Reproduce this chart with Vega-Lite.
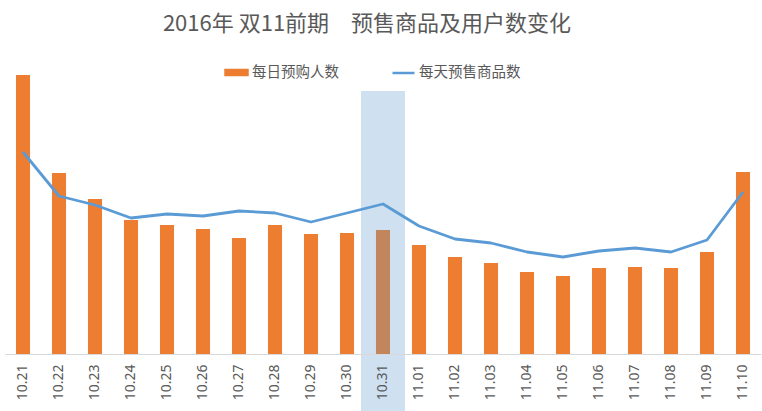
{
  "$schema": "https://vega.github.io/schema/vega-lite/v6.json",
  "autosize": {"type": "none"},
  "width": 756,
  "height": 294,
  "padding": {"left": 5, "top": 60, "right": 1, "bottom": 57},
  "background": "white",
  "config": {"view": {"stroke": null}, "font": "Noto Sans CJK SC"},
  "title": {
    "text": "2016年 双11前期　预售商品及用户数变化",
    "fontSize": 22,
    "fontWeight": "normal",
    "color": "#595959",
    "font": "Noto Sans CJK SC",
    "anchor": "middle",
    "dx": -16,
    "offset": 24
  },
  "data": {
    "values": [
      {"date": "10.21", "buyers": 279, "products": 202},
      {"date": "10.22", "buyers": 181, "products": 158},
      {"date": "10.23", "buyers": 155, "products": 149},
      {"date": "10.24", "buyers": 134, "products": 136},
      {"date": "10.25", "buyers": 129, "products": 140},
      {"date": "10.26", "buyers": 125, "products": 138},
      {"date": "10.27", "buyers": 116, "products": 143},
      {"date": "10.28", "buyers": 129, "products": 141},
      {"date": "10.29", "buyers": 120, "products": 132},
      {"date": "10.30", "buyers": 121, "products": 141},
      {"date": "10.31", "buyers": 124, "products": 150},
      {"date": "11.01", "buyers": 109, "products": 128},
      {"date": "11.02", "buyers": 97, "products": 115},
      {"date": "11.03", "buyers": 91, "products": 111},
      {"date": "11.04", "buyers": 82, "products": 102},
      {"date": "11.05", "buyers": 78, "products": 97},
      {"date": "11.06", "buyers": 86, "products": 103},
      {"date": "11.07", "buyers": 87, "products": 106},
      {"date": "11.08", "buyers": 86, "products": 102},
      {"date": "11.09", "buyers": 102, "products": 114},
      {"date": "11.10", "buyers": 182, "products": 162}
    ]
  },
  "encoding": {
    "x": {
      "field": "date",
      "type": "nominal",
      "sort": null,
      "scale": {"paddingInner": 0.61, "paddingOuter": 0.305},
      "axis": {
        "title": null,
        "labelAngle": -90,
        "labelFontSize": 14,
        "labelFont": "Noto Sans",
        "labelColor": "#595959",
        "ticks": false,
        "tickSize": 0,
        "labelPadding": 10,
        "domainColor": "#D9D9D9",
        "domainWidth": 1,
        "zindex": 1
      }
    }
  },
  "layer": [
    {
      "mark": {"type": "bar"},
      "encoding": {
        "y": {"field": "buyers", "type": "quantitative", "scale": {"domain": [0, 294]}, "axis": null},
        "color": {
          "datum": "每日预购人数",
          "scale": {"domain": ["每日预购人数", "每天预售商品数"], "range": ["#ED7D31", "#5B9BD5"]},
          "legend": {
            "orient": "none",
            "legendX": 219,
            "legendY": 0,
            "direction": "horizontal",
            "title": null,
            "padding": 0,
            "labelFontSize": 14.5,
            "labelFont": "Noto Sans CJK SC",
            "labelColor": "#595959",
            "labelOffset": 3,
            "columnPadding": 48,
            "symbolSize": 484,
            "symbolType": "M-1,-0.227H1V0.227H-1Z",
            "encode": {
              "symbols": {
                "update": {
                  "shape": {"signal": "datum.value === '每日预购人数' ? 'M-1,-0.227H1V0.227H-1Z' : 'M-1,0H1'"},
                  "fill": {"signal": "datum.value === '每日预购人数' ? '#ED7D31' : 'transparent'"},
                  "stroke": {"signal": "datum.value === '每日预购人数' ? 'transparent' : '#5B9BD5'"},
                  "strokeWidth": {"value": 2.5},
                  "opacity": {"value": 1},
                  "fillOpacity": {"value": 1},
                  "strokeOpacity": {"value": 1}
                }
              }
            }
          }
        }
      }
    },
    {
      "transform": [{"filter": "datum.date === '10.31'"}],
      "mark": {"type": "bar", "color": "#CFE0F1", "width": 44},
      "encoding": {
        "y": {"datum": 263, "type": "quantitative", "scale": {"domain": [0, 294]}, "axis": null},
        "y2": {"datum": -57}
      }
    },
    {
      "transform": [{"filter": "datum.date === '10.31'"}],
      "mark": {"type": "bar", "color": "#C2865E"},
      "encoding": {
        "y": {"field": "buyers", "type": "quantitative", "scale": {"domain": [0, 294]}, "axis": null}
      }
    },
    {
      "mark": {"type": "line", "strokeWidth": 2.8, "strokeJoin": "round"},
      "encoding": {
        "y": {"field": "products", "type": "quantitative", "scale": {"domain": [0, 294]}, "axis": null},
        "color": {"datum": "每天预售商品数"}
      }
    }
  ]
}
